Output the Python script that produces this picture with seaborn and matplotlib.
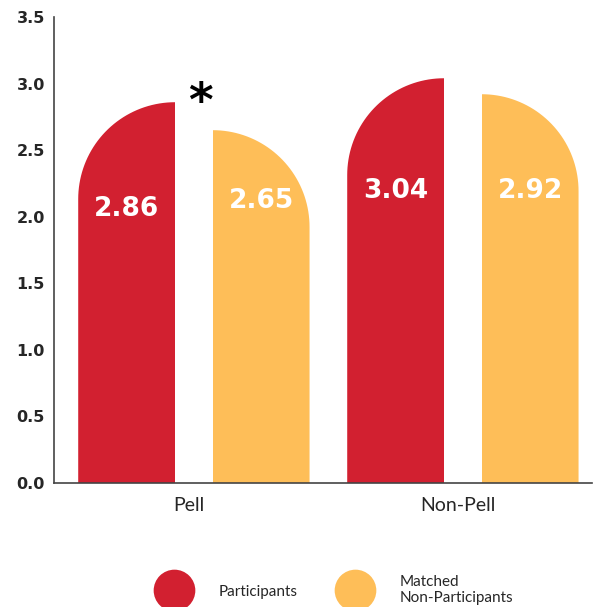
import numpy as np
import pandas as pd
import matplotlib
matplotlib.use('Agg')
import matplotlib.pyplot as plt
import seaborn as sns
from matplotlib.path import Path
from matplotlib.patches import PathPatch
from matplotlib.lines import Line2D

groups = ['Pell', 'Non-Pell']
series = ['Participants', 'Matched Non-Participants']
legend_labels = ['Participants', 'Matched\nNon-Participants']
participants = [2.86, 3.04]
matched = [2.65, 2.92]
colors = ['#D22030', '#FEBE58']
# where the white value labels sit inside each bar
label_y = [[2.06, 2.19], [2.12, 2.19]]
yticks = [0.0, 0.5, 1.0, 1.5, 2.0, 2.5, 3.0, 3.5]


def rounded_bar(x0, w, h, ry, left):
    # rectangle whose top-left (or top-right) corner is a quarter ellipse
    t = np.linspace(0, np.pi / 2, 40)
    if left:
        cx, cy = x0 + w, h - ry
        arc = [(cx - w * np.cos(a), cy + ry * np.sin(a)) for a in t]
        verts = [(x0 + w, 0), (x0, 0)] + arc
    else:
        cx, cy = x0, h - ry
        arc = [(cx + w * np.cos(a), cy + ry * np.sin(a)) for a in t]
        verts = [(x0, 0), (x0 + w, 0)] + arc
    verts.append(verts[0])
    return Path(verts)


def main():
    df = pd.DataFrame({
        'group': groups * 2,
        'series': [series[0]] * 2 + [series[1]] * 2,
        'value': participants + matched,
    })

    sns.set_style('white')
    fig = plt.figure(figsize=(5.93, 6.07), dpi=100)
    ax = fig.add_axes([54 / 593, 124 / 607, 538 / 593, 466 / 607])

    sns.barplot(data=df, x='group', y='value', hue='series', palette=colors,
                width=1.0, gap=0.28, saturation=1, errorbar=None,
                legend=False, linewidth=0, ax=ax)

    ax.set_xlim(-0.5, 1.5)
    ax.set_ylim(0, 3.5)

    # pixels per data unit, so the corner is a true quarter circle on screen
    p0 = ax.transData.transform((0, 0))
    p1 = ax.transData.transform((1, 1))
    sx, sy = p1[0] - p0[0], p1[1] - p0[1]

    for i, cont in enumerate(ax.containers):
        for j, bar in enumerate(cont):
            # the original sits the bar pairs a touch right of the category
            bar.set_x(bar.get_x() + 0.02)
            x0, w, h = bar.get_x(), bar.get_width(), bar.get_height()
            ry = w * sx / sy
            clip = PathPatch(rounded_bar(x0, w, h, ry, left=(i == 0)),
                             transform=ax.transData)
            bar.set_clip_path(clip)
            ax.text(x0 + w / 2, label_y[i][j], f'{h:.2f}', color='white',
                    fontsize=19, fontweight='bold', ha='center', va='center')

    ax.text(0.045, 2.85, '*', fontsize=34, fontweight='bold',
            ha='center', va='center', color='black')

    ax.set_yticks(yticks)
    ax.set_yticklabels([f'{v:.1f}' for v in yticks])
    ax.set_xlabel('')
    ax.set_ylabel('')

    sns.despine(ax=ax)
    for s in ['left', 'bottom']:
        ax.spines[s].set_color('#444444')
        ax.spines[s].set_linewidth(1.2)

    ax.tick_params(axis='y', direction='in', length=9.5, width=1.2,
                   color='#555555', pad=6.5, labelsize=11.5)
    for lab in ax.get_yticklabels():
        lab.set_fontweight('bold')
    ax.set_xticks([0.5, 1.5], minor=True)
    ax.tick_params(axis='x', which='minor', direction='in', length=9,
                   width=1.2, color='#444444')
    ax.tick_params(axis='x', which='major', length=0, pad=10)
    for lab in ax.get_xticklabels():
        lab.set_fontfamily('Lato')
        lab.set_fontsize(14)

    handles = [Line2D([], [], marker='o', ls='', markersize=30,
                      markerfacecolor=c, markeredgewidth=0) for c in colors]
    fig.legend(handles, legend_labels, loc='center',
               bbox_to_anchor=(0.56, 0.028), ncol=2, frameon=False,
               prop={'family': 'Lato', 'size': 11}, handlelength=3,
               handletextpad=1.4, columnspacing=2.3)

    fig.savefig('out.png', dpi=100)
    plt.close(fig)


if __name__ == '__main__':
    main()
